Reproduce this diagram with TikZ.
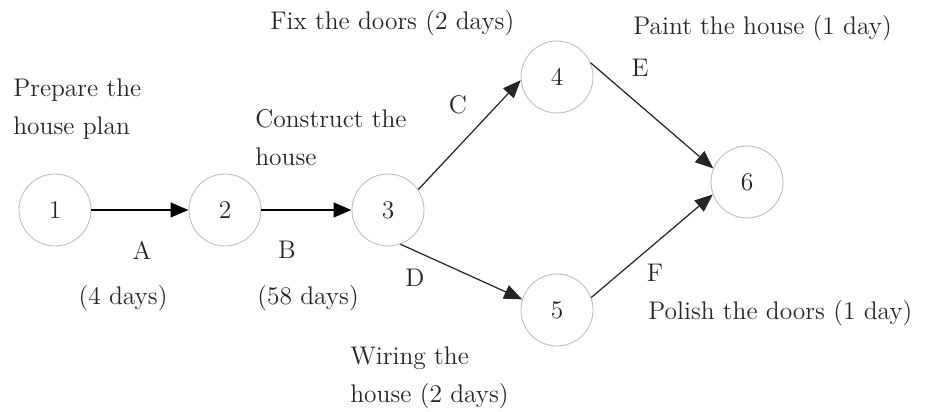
\documentclass[tikz,border=0pt]{standalone}
\usepackage{tikz}
\usetikzlibrary{arrows.meta,positioning}
\definecolor{ringcol}{HTML}{BDBDBD}
\definecolor{txtcol}{HTML}{262626}

\begin{document}
\begin{tikzpicture}[>={Triangle[length=0.36cm,width=0.29cm]},
    event/.style={draw=ringcol,line width=0.5pt,circle,minimum size=1.44cm,inner sep=0pt,
      font=\fontsize{14.5}{21.6}\selectfont,text=txtcol},
    task/.style={anchor=west,inner sep=0pt,align=left,font=\fontsize{14.5}{21.6}\selectfont,text=txtcol},
    tag/.style={inner sep=0pt,font=\fontsize{14.5}{21.6}\selectfont,text=txtcol},
    main/.style={->,line width=1.5pt},
    side/.style={->,line width=0.7pt,black!85}]
  \useasboundingbox (0,0) rectangle (18.62,8.22);
  \node[event] (n1) at (1.10,4.02) {1};
  \node[event] (n2) at (4.50,4.02) {2};
  \node[event] (n3) at (7.76,4.02) {3};
  \node[event] (n4) at (11.14,6.68) {4};
  \node[event] (n5) at (11.14,2.02) {5};
  \node[event] (n6) at (14.94,4.58) {6};
  \draw[main] (n1) -- (n2);
  \draw[main] (n2) -- (n3);
  \draw[side] (n3.34) -- (n4.185);
  \draw[side] (n3.-70) -- (n5.163);
  \draw[side] (n4.23) -- (n6.158);
  \draw[side] (n5.20) -- (n6.200);
  % activity letters and durations
  \node[tag] (la) at (2.84,3.22) {A};
  \node[tag] (da) at (2.46,2.26) {(4 days)};
  \node[tag] (lb) at (5.74,3.22) {B};
  \node[tag] (db) at (6.16,2.26) {(58 days)};
  \node[tag] (lc) at (9.16,6.12) {C};
  \node[tag] (ld) at (8.30,2.66) {D};
  \node[tag] (le) at (12.80,6.86) {E};
  \node[tag] (lf) at (13.10,2.76) {F};
  % activity descriptions
  \node[task] (tplan) at (0.26,6.04) {Prepare the\\house plan};
  \node[task] (tbuild) at (5.10,5.46) {Construct the\\house};
  \node[task] (tfix) at (5.40,7.76) {Fix the doors (2 days)};
  \node[task] (tpaint) at (12.66,7.66) {Paint the house (1 day)};
  \node[task] (tpolish) at (12.96,1.96) {Polish the doors (1 day)};
  \node[task] (twire) at (7.00,0.67) {Wiring the\\house (2 days)};
\end{tikzpicture}
\end{document}
